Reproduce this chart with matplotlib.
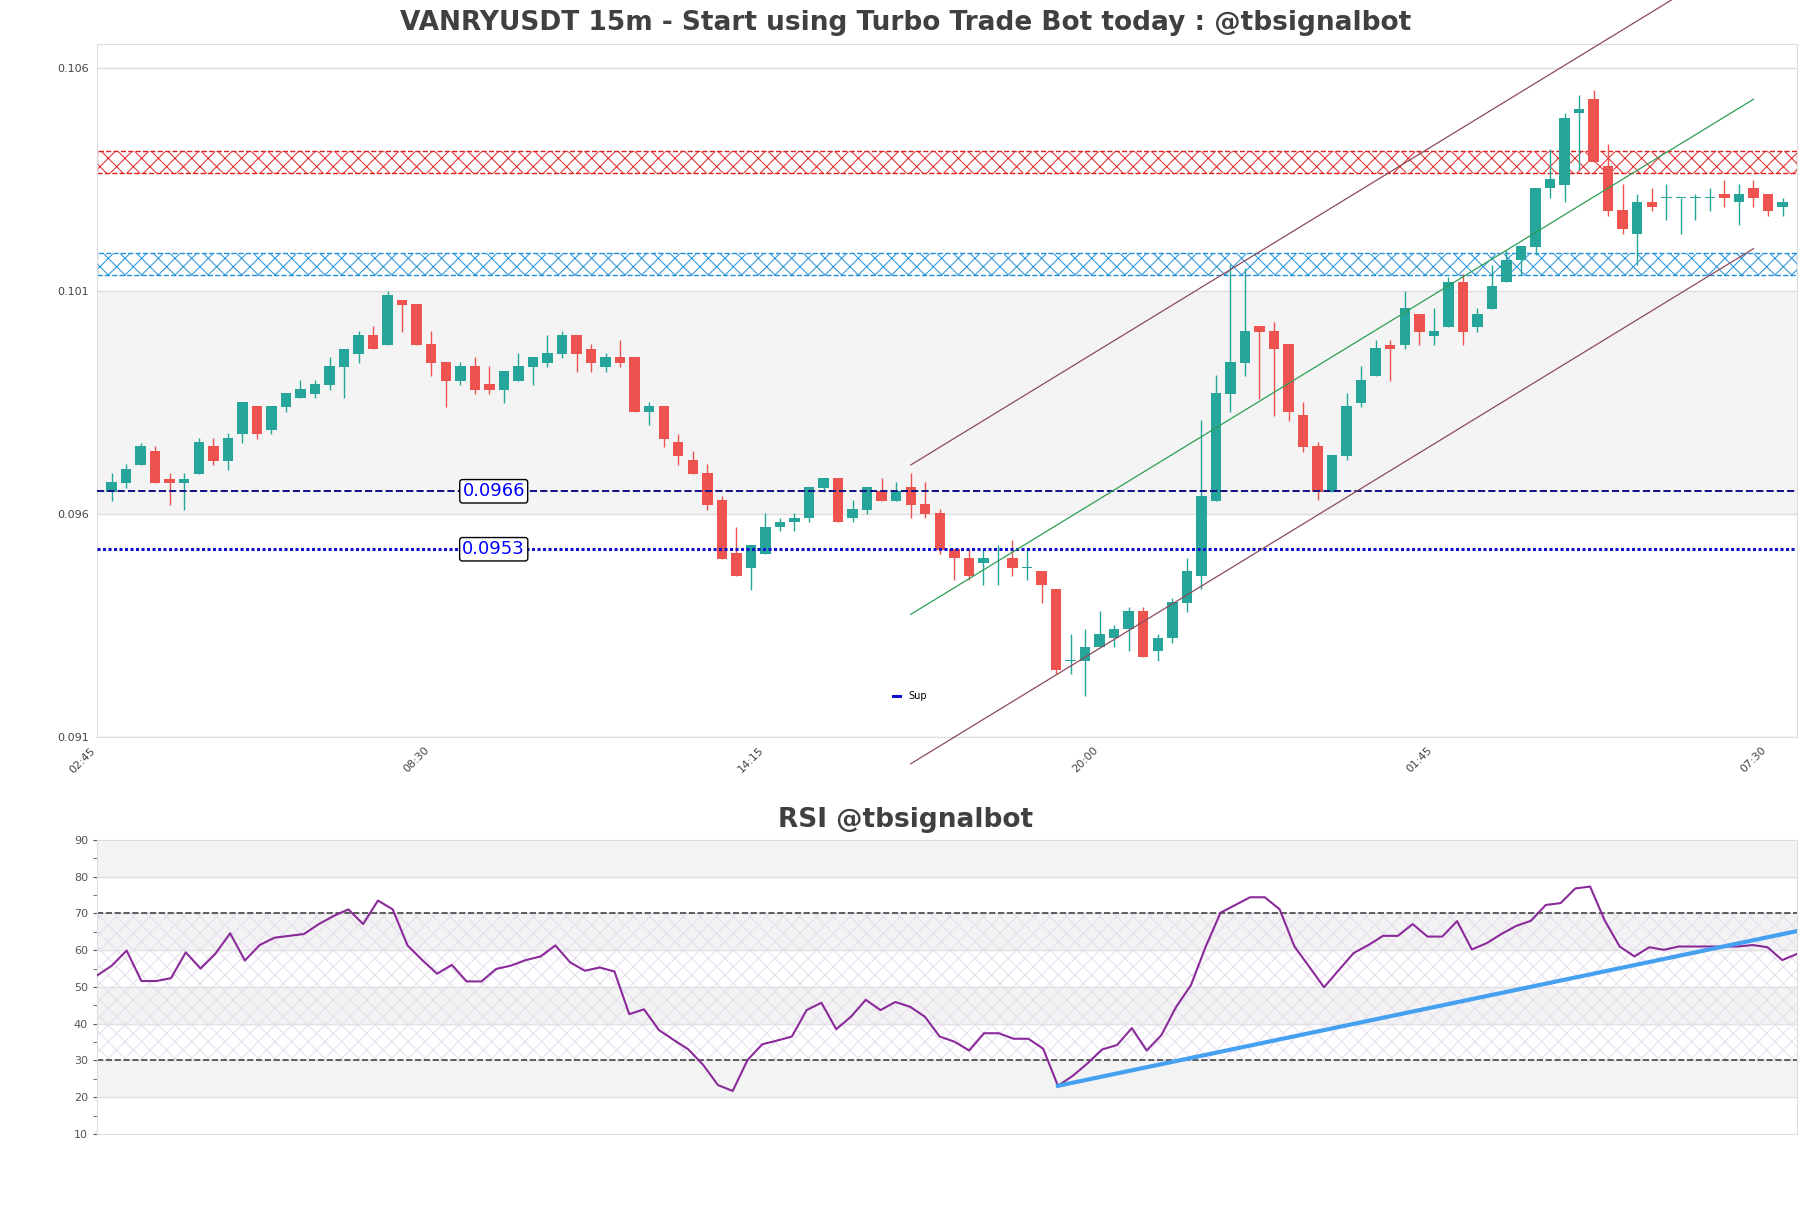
import numpy as np
import matplotlib
matplotlib.use("Agg")
import matplotlib.pyplot as plt
from matplotlib.lines import Line2D

# 15m candles, first one at 03:00
opens = [0.09659, 0.09679, 0.09719, 0.09750, 0.09688, 0.09679, 0.09699, 0.09761, 0.09728, 0.09789,
         0.09851, 0.09798, 0.09849, 0.09869, 0.09878, 0.09898, 0.09939, 0.09968, 0.10010, 0.09988,
         0.10090, 0.10079, 0.09990, 0.09949, 0.09907, 0.09940, 0.09900, 0.09887, 0.09907, 0.09939,
         0.09948, 0.09968, 0.10010, 0.09980, 0.09939, 0.09960, 0.09960, 0.09838, 0.09851, 0.09770,
         0.09730, 0.09700, 0.09641, 0.09521, 0.09489, 0.09520, 0.09579, 0.09590, 0.09599, 0.09668,
         0.09690, 0.09599, 0.09619, 0.09661, 0.09639, 0.09670, 0.09632, 0.09611, 0.09530, 0.09510,
         0.09500, 0.09510, 0.09510, 0.09489, 0.09481, 0.09440, 0.09280, 0.09280, 0.09310, 0.09330,
         0.09351, 0.09392, 0.09301, 0.09330, 0.09410, 0.09469, 0.09639, 0.09878, 0.09948, 0.10031,
         0.10020, 0.09990, 0.09830, 0.09761, 0.09659, 0.09739, 0.09858, 0.09919, 0.09989, 0.09987,
         0.10058, 0.10008, 0.10028, 0.10129, 0.10028, 0.10069, 0.10129, 0.10179, 0.10208, 0.10339,
         0.10347, 0.10508, 0.10539, 0.10389, 0.10290, 0.10237, 0.10309, 0.10318, 0.10318, 0.10318,
         0.10318, 0.10327, 0.10309, 0.10339, 0.10327, 0.10297]
highs = [0.09701, 0.09721, 0.09769, 0.09761, 0.09701, 0.09701, 0.09779, 0.09779, 0.09790, 0.09860,
         0.09851, 0.09851, 0.09880, 0.09909, 0.09909, 0.09960, 0.09980, 0.10019, 0.10030, 0.10108,
         0.10090, 0.10079, 0.10019, 0.09949, 0.09949, 0.09960, 0.09940, 0.09929, 0.09969, 0.09960,
         0.10010, 0.10019, 0.10010, 0.09990, 0.09969, 0.09999, 0.09960, 0.09860, 0.09851, 0.09789,
         0.09750, 0.09721, 0.09650, 0.09579, 0.09539, 0.09611, 0.09599, 0.09611, 0.09670, 0.09690,
         0.09690, 0.09641, 0.09670, 0.09690, 0.09681, 0.09702, 0.09681, 0.09620, 0.09530, 0.09530,
         0.09530, 0.09539, 0.09551, 0.09528, 0.09481, 0.09440, 0.09340, 0.09351, 0.09392, 0.09360,
         0.09401, 0.09401, 0.09340, 0.09420, 0.09510, 0.09820, 0.09921, 0.10169, 0.10160, 0.10031,
         0.10040, 0.09990, 0.09860, 0.09771, 0.09741, 0.09880, 0.09940, 0.09999, 0.09999, 0.10108,
         0.10058, 0.10070, 0.10141, 0.10148, 0.10070, 0.10168, 0.10200, 0.10209, 0.10339, 0.10428,
         0.10509, 0.10548, 0.10559, 0.10438, 0.10348, 0.10327, 0.10339, 0.10348, 0.10318, 0.10327,
         0.10339, 0.10359, 0.10348, 0.10359, 0.10327, 0.10318]
lows = [0.09638, 0.09667, 0.09719, 0.09679, 0.09629, 0.09617, 0.09699, 0.09719, 0.09708, 0.09768,
        0.09777, 0.09789, 0.09838, 0.09869, 0.09869, 0.09887, 0.09869, 0.09948, 0.09979, 0.09988,
        0.10017, 0.09988, 0.09918, 0.09849, 0.09898, 0.09878, 0.09878, 0.09858, 0.09907, 0.09898,
        0.09939, 0.09959, 0.09928, 0.09928, 0.09928, 0.09939, 0.09838, 0.09809, 0.09759, 0.09719,
        0.09699, 0.09617, 0.09509, 0.09469, 0.09439, 0.09520, 0.09570, 0.09570, 0.09590, 0.09659,
        0.09590, 0.09590, 0.09610, 0.09639, 0.09639, 0.09599, 0.09599, 0.09520, 0.09460, 0.09460,
        0.09449, 0.09449, 0.09469, 0.09461, 0.09410, 0.09250, 0.09250, 0.09200, 0.09310, 0.09310,
        0.09301, 0.09289, 0.09280, 0.09319, 0.09390, 0.09440, 0.09639, 0.09838, 0.09919, 0.09868,
        0.09829, 0.09818, 0.09748, 0.09640, 0.09659, 0.09730, 0.09849, 0.09919, 0.09907, 0.09979,
        0.09987, 0.09987, 0.10028, 0.09987, 0.10017, 0.10069, 0.10129, 0.10144, 0.10189, 0.10318,
        0.10309, 0.10380, 0.10399, 0.10277, 0.10237, 0.10167, 0.10289, 0.10268, 0.10237, 0.10268,
        0.10289, 0.10297, 0.10257, 0.10297, 0.10277, 0.10277]
closes = [0.09680, 0.09709, 0.09761, 0.09679, 0.09679, 0.09688, 0.09770, 0.09728, 0.09779, 0.09860,
          0.09789, 0.09851, 0.09880, 0.09889, 0.09900, 0.09940, 0.09980, 0.10010, 0.09979, 0.10099,
          0.10078, 0.09988, 0.09948, 0.09907, 0.09940, 0.09887, 0.09887, 0.09929, 0.09940, 0.09960,
          0.09969, 0.10010, 0.09968, 0.09948, 0.09960, 0.09948, 0.09838, 0.09851, 0.09777, 0.09739,
          0.09699, 0.09629, 0.09509, 0.09469, 0.09539, 0.09579, 0.09591, 0.09599, 0.09670, 0.09690,
          0.09590, 0.09620, 0.09670, 0.09639, 0.09661, 0.09630, 0.09610, 0.09529, 0.09510, 0.09469,
          0.09510, 0.09510, 0.09489, 0.09489, 0.09449, 0.09259, 0.09280, 0.09310, 0.09340, 0.09351,
          0.09392, 0.09289, 0.09330, 0.09411, 0.09481, 0.09650, 0.09880, 0.09949, 0.10020, 0.10018,
          0.09980, 0.09838, 0.09759, 0.09659, 0.09741, 0.09851, 0.09909, 0.09981, 0.09979, 0.10070,
          0.10017, 0.10019, 0.10129, 0.10017, 0.10058, 0.10120, 0.10179, 0.10209, 0.10339, 0.10360,
          0.10498, 0.10518, 0.10399, 0.10289, 0.10248, 0.10309, 0.10297, 0.10318, 0.10318, 0.10318,
          0.10318, 0.10318, 0.10327, 0.10318, 0.10289, 0.10309]

rsi_values = [53.1, 55.8, 59.9, 51.6, 51.6, 52.4, 59.4, 55.0, 59.0, 64.6,
              57.2, 61.4, 63.4, 63.9, 64.4, 67.1, 69.3, 71.1, 67.1, 73.5,
              71.1, 61.3, 57.3, 53.6, 56.0, 51.5, 51.5, 54.9, 55.8, 57.3,
              58.3, 61.3, 56.7, 54.4, 55.3, 54.2, 42.6, 43.9, 38.3, 35.6,
              33.0, 28.8, 23.3, 21.7, 30.1, 34.4, 35.4, 36.5, 43.7, 45.7,
              38.5, 41.9, 46.5, 43.7, 45.9, 44.6, 41.9, 36.5, 35.1, 32.7,
              37.4, 37.4, 35.9, 35.9, 33.2, 23.1, 25.8, 29.2, 33.0, 34.2,
              38.8, 32.7, 36.9, 44.6, 50.5, 61.0, 70.2, 72.3, 74.4, 74.4,
              71.1, 61.0, 55.5, 49.9, 54.6, 59.2, 61.4, 63.9, 63.9, 67.1,
              63.7, 63.7, 67.9, 60.2, 61.9, 64.4, 66.6, 68.0, 72.3, 72.8,
              76.8, 77.3, 68.0, 61.0, 58.3, 60.8, 60.1, 61.0, 61.0, 61.0,
              61.0, 61.0, 61.4, 60.8, 57.3, 59.0]

xtick_labels = ['02:45', '08:30', '14:15', '20:00', '01:45', '07:30']

res_zone = (0.10373, 0.10424)
sup_zone = (0.10144, 0.10195)
level_1 = 0.0966
level_2 = 0.0953

# price channel
chan_x = [55, 113]
chan_mid = [0.09384, 0.10539]
chan_width = 0.00335

# rsi trend line
rsi_trend_x = [65, 115]
rsi_trend_y = [23.1, 65.2]

title = 'VANRYUSDT 15m - Start using Turbo Trade Bot today : @tbsignalbot'

plt.rcParams['hatch.linewidth'] = 0.7

fig = plt.figure(figsize=(18.11, 12.08), dpi=100)
ax = fig.add_axes([0.0536, 0.3899, 0.9387, 0.5737])
ax2 = fig.add_axes([0.0536, 0.0613, 0.9387, 0.2434])

# --- price chart
o = np.array(opens)
h = np.array(highs)
l = np.array(lows)
c = np.array(closes)
x = np.arange(len(o))
cols = np.where(c >= o, '#26a69a', '#ef5350')

ymin, ymax = 0.09109, 0.10663
yticks = ymin + 0.005 * np.arange(4)

ax.axhspan(yticks[1], yticks[2], color='#f4f4f4', zorder=0)
for t in yticks:
    ax.axhline(t, color='#dedede', lw=1, zorder=1)

ax.axhspan(res_zone[0], res_zone[1], facecolor='none', edgecolor='#e02020', hatch='xx', ls='--', lw=1, zorder=2)
ax.axhspan(sup_zone[0], sup_zone[1], facecolor='none', edgecolor='#1f8fd8', hatch='xx', ls='--', lw=1, zorder=2)

ax.vlines(x, l, h, color=cols, lw=1, zorder=3)
body = np.maximum(np.abs(c - o), 0.000012)
ax.bar(x, body, 0.72, bottom=np.minimum(o, c), color=cols, zorder=4)

ax.axhline(level_1, color='#10108a', ls='--', lw=1.4, zorder=5)
ax.axhline(level_2, color='#1010d0', ls=(0, (1, 0.8)), lw=2.2, zorder=5)
for lv in [level_1, level_2]:
    ax.text(26.3, lv, '%.4f' % lv, color='blue', fontsize=13, ha='center', va='center', zorder=6,
            bbox=dict(boxstyle='round,pad=0.15', fc='white', ec='black', lw=1))

cm = np.array(chan_mid)
ax.plot(chan_x, cm, color='#2e9e55', lw=0.9, zorder=5)
ax.plot(chan_x, cm + chan_width, color='#8d4a5a', lw=0.9, zorder=5, clip_on=False)
ax.plot(chan_x, cm - chan_width, color='#8d4a5a', lw=0.9, zorder=5, clip_on=False)

ax.set_xlim(-1, 116)
ax.set_ylim(ymin, ymax)
ax.set_yticks(yticks)
ax.set_yticklabels(['%.3f' % t for t in yticks])
ax.set_xticks(np.arange(-1, 116, 23))
ax.set_xticklabels(xtick_labels, rotation=45, ha='right')
ax.tick_params(length=0, labelsize=8, colors='#444444', pad=6)
for s in ax.spines.values():
    s.set_color('#dddddd')

sup_handle = Line2D([], [], color='#1010d0', lw=2.2)
ax.legend([sup_handle], ['Sup'], loc='center', bbox_to_anchor=(0.478, 0.059), frameon=False,
          fontsize=7, handlelength=0.8)

fig.text(0.5, 0.981, title, ha='center', va='center', fontsize=19, fontweight='bold', color='#404040')

# --- rsi
for lo in [20, 40, 60, 80]:
    ax2.axhspan(lo, lo + 10, color='#f3f3f3', zorder=0)
for t in range(20, 90, 10):
    ax2.axhline(t, color='#e2e2e2', lw=1, zorder=1)
ax2.axhspan(30, 70, facecolor='none', edgecolor='#e6dcee', hatch='xx', lw=0, zorder=1)
ax2.axhline(70, color='#444444', ls='--', lw=1.2, zorder=2)
ax2.axhline(30, color='#444444', ls='--', lw=1.2, zorder=2)

ax2.plot(np.arange(len(rsi_values)), rsi_values, color='#8a2a9a', lw=1.5, zorder=3)
ax2.plot(rsi_trend_x, rsi_trend_y, color='#45a0f0', lw=3, zorder=4)

ax2.set_xlim(0, len(rsi_values) - 1)
ax2.set_ylim(10, 90)
ax2.set_yticks(range(10, 91, 10))
ax2.set_yticks(range(15, 90, 10), minor=True)
ax2.set_xticks([])
ax2.tick_params(axis='y', which='both', labelsize=8, colors='#555555', length=3)
for s in ax2.spines.values():
    s.set_color('#dddddd')

fig.text(0.5, 0.3212, 'RSI @tbsignalbot', ha='center', va='center', fontsize=19, fontweight='bold', color='#404040')

fig.savefig('out.png', dpi=100)
